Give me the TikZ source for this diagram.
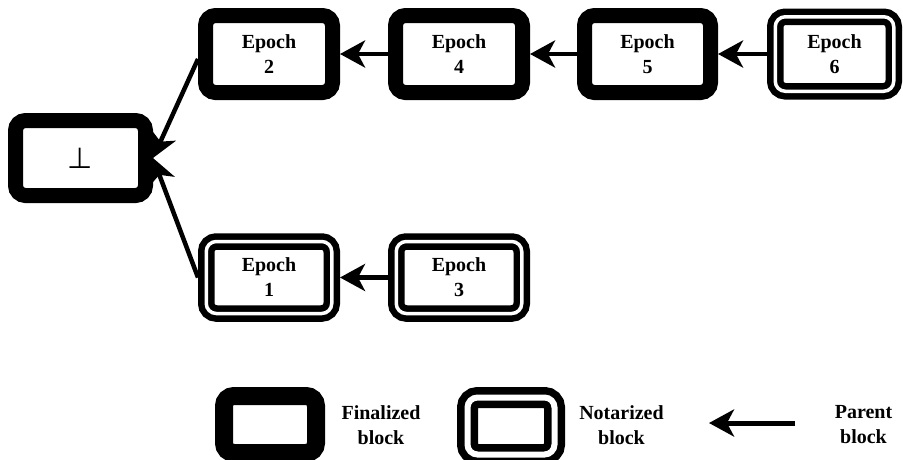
\documentclass[tikz,border=0pt]{standalone}
\usepackage{fontspec}
\setmainfont{Liberation Serif}
\newfontfamily\symbolfont{DejaVu Sans}
\usetikzlibrary{arrows.meta}
\tikzset{
  txtstyle/.style={font=\fontsize{20}{25}\selectfont\bfseries, align=center, inner sep=0pt},
  finbox/.style={txtstyle, draw, fill=white, line width=15pt, rounded corners=10pt, outer sep=7.5pt},
  notabox/.style={txtstyle, draw, line width=6.5pt, double=white, double distance=3.5pt, rounded corners=10pt, outer sep=8.25pt},
  parentarrow/.style={line width=4.5pt, -{Stealth[length=25pt,width=27pt,inset=7pt]}},
}
\begin{document}
\begin{tikzpicture}[x=1pt,y=-1pt]
\useasboundingbox (0,0) rectangle (903,459);
% genesis
\node[finbox, minimum width=130pt, minimum height=75pt, font=\symbolfont\fontsize{29}{30}\selectfont] (genesis) at (80.5,158) {⊥};
% top chain
\node[finbox, minimum width=127pt, minimum height=77pt] (e2) at (269,54) {Epoch\\2};
\node[finbox, minimum width=127pt, minimum height=77pt] (e4) at (459,54) {Epoch\\4};
\node[finbox, minimum width=126pt, minimum height=77pt] (e5) at (647.5,54) {Epoch\\5};
\node[notabox, minimum width=118.5pt, minimum height=74.5pt] (e6) at (834.5,54) {Epoch\\6};
% bottom chain
\node[notabox, minimum width=125.5pt, minimum height=72pt] (e1) at (269,277.5) {Epoch\\1};
\node[notabox, minimum width=125.5pt, minimum height=72pt] (e3) at (459,277.5) {Epoch\\3};
% parent links
\draw[parentarrow] ([yshift=-5pt]e2.west) -- (genesis.east);
\draw[parentarrow] (e1.west) -- (genesis.east);
\draw[parentarrow] (e4.west) -- (e2.east);
\draw[parentarrow] (e5.west) -- (e4.east);
\draw[parentarrow] (e6.west) -- (e5.east);
\draw[parentarrow] (e3.west) -- (e1.east);
% legend
\node[draw, line width=18pt, rounded corners=10pt, minimum width=92pt, minimum height=57pt, inner sep=0pt] (lf) at (270,424.5) {};
\node[txtstyle] (tf) at (381,425) {Finalized\\block};
\node[draw, line width=7.5pt, double=white, double distance=6pt, rounded corners=10pt, minimum width=87pt, minimum height=57pt, inner sep=0pt] (ln) at (511,426) {};
\node[txtstyle] (tn) at (621.5,425) {Notarized\\block};
\coordinate (pa) at (795,423);
\coordinate (pb) at (709,423);
\draw[parentarrow, line width=5pt] (pa) -- (pb);
\node[txtstyle] (tp) at (863.5,425) {Parent\\block};
\end{tikzpicture}
\end{document}
